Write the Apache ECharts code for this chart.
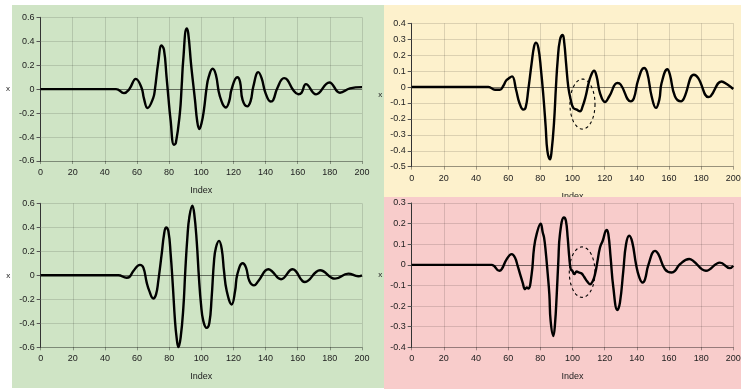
<!DOCTYPE html>
<html><head><meta charset="utf-8">
<script src="https://cdn.jsdelivr.net/npm/echarts@6/dist/echarts.min.js"></script>
<style>html,body{margin:0;padding:0;background:#fff}#c{width:741px;height:389px}</style>
</head><body><div id="c"></div>
<script>
// ---- data ----
const xTL = [0,47,51.9,55.2,59.3,62.9,64.3,66.6,70.1,71.2,73.2,75.3,76.8,78.4,79.5,80.9,83.0,84.2,86.7,87.8,88.8,90.9,91.9,93.6,94.6,96.1,97.5,98.8,100.2,101.7,103.3,104.6,107.1,109.1,111.6,115.4,117.4,118.9,122.4,124.1,125.7,128.6,130.7,132.4,135.5,137.6,140,143.2,144.8,147.3,151.5,153.5,157.3,160.4,162.4,165.1,171.4,179.7,186.3,192.5,200];
const yTL = [0,0,-0.033,0,0.086,0.01,-0.075,-0.158,-0.075,0,0.217,0.364,0.33,0.105,-0.06,-0.255,-0.464,-0.45,-0.2,0.02,0.244,0.506,0.467,0.217,0.09,-0.09,-0.27,-0.333,-0.283,-0.17,0.008,0.1,0.17,0.12,-0.06,-0.153,-0.1,0,0.1,0.064,-0.09,-0.144,-0.1,0.022,0.142,0.09,-0.033,-0.103,-0.09,0.008,0.092,0.078,-0.01,-0.042,-0.03,0.042,-0.044,0.056,-0.03,0.006,0.017];

const xTR = [0,47.7,51.8,54.9,57,58.7,60.1,62.4,64.9,67,69.4,70.9,72.5,74.6,76.1,77.3,78.8,80.4,81.9,83.3,84.4,86,87,88.5,89.7,90.8,92.2,93.9,94.9,96,97.4,98.9,100.5,102.6,104.7,106.3,108.2,109.8,111.3,113.4,115,117.1,120.2,122.9,127.9,130,136.2,138.2,140.9,144.5,146.5,149.2,151.9,154,155.4,159,160.6,163.7,167.5,169.4,175.5,178.2,184.5,185.9,192.7,195.9,200];
const yTR = [0,0,-0.017,-0.017,0.008,0.04,0.052,0.067,-0.017,-0.1,-0.142,-0.127,-0.017,0.15,0.254,0.279,0.244,0.108,-0.058,-0.246,-0.402,-0.454,-0.402,-0.225,0,0.171,0.296,0.327,0.275,0.15,0,-0.08,-0.131,-0.142,-0.152,-0.121,-0.058,0.015,0.067,0.102,0.067,-0.0375,-0.094,-0.058,0.025,0.015,-0.09,-0.07,0.046,0.119,0.088,-0.058,-0.131,-0.079,0.025,0.112,0.077,-0.058,-0.09,-0.069,0.077,0.056,-0.0625,-0.058,0.035,0.019,-0.0125];

const xBL = [0,48.3,53.5,55.2,57.7,61.8,63.9,66,67.6,70.1,71.8,73.2,75.3,76.8,78,79.5,80.9,82.2,83.6,84.6,85.7,87.1,88.8,90,91.3,92.5,94.4,95.6,97.1,98.5,99.8,101.2,103.3,105,106.4,107.9,109.1,111,112.7,114.1,115.8,118.9,121,122.4,125.7,127.8,129.9,132.8,135.5,141.7,143.8,149.6,156.8,164.5,173.9,183.2,191.5,197.7,200];
const yBL = [0,0,-0.02,-0.014,0.036,0.087,0.064,-0.061,-0.13,-0.193,-0.159,-0.047,0.176,0.343,0.399,0.366,0.176,-0.075,-0.38,-0.52,-0.6,-0.52,-0.27,0.036,0.315,0.483,0.58,0.51,0.287,-0.02,-0.243,-0.38,-0.438,-0.396,-0.187,0.12,0.232,0.287,0.218,0.036,-0.131,-0.243,-0.131,0.008,0.1,0.064,-0.047,-0.084,-0.047,0.05,0.036,-0.033,0.05,-0.056,0.042,-0.028,0.014,-0.008,0];

const xBR = [0,49.7,54.5,56,59.1,62.2,64.2,65.9,67.4,69,70.5,71.5,72.5,74.6,76.1,77.7,80.2,81.5,82.3,83.3,84.6,85.6,86.4,88.1,89.1,90.2,91.2,92.2,94.7,95.9,97,98,98.9,99.9,101.1,102.6,104,105.7,107.2,109.2,110.9,112.5,114,115.4,117.1,118.8,121.2,122.3,123.7,125.4,127.9,129.5,131.6,133.3,135.3,137.2,139.5,141.6,143.6,145.1,147.2,151.3,153.4,157.5,161.7,163.7,166.8,172.6,175.1,183,191.7,197.9,200];
const yBR = [0,0,-0.029,-0.021,0.028,0.052,0.036,-0.005,-0.045,-0.086,-0.118,-0.11,-0.115,-0.045,0.084,0.149,0.2,0.157,0.133,0.068,-0.045,-0.143,-0.272,-0.345,-0.289,-0.143,0.019,0.149,0.23,0.214,0.133,0.036,-0.021,-0.029,-0.045,-0.032,-0.037,-0.042,-0.058,-0.081,-0.094,-0.081,-0.045,0.011,0.084,0.117,0.169,0.149,0.036,-0.11,-0.219,-0.183,-0.029,0.1,0.141,0.109,0.003,-0.062,-0.086,-0.07,0,0.068,0.052,-0.021,-0.037,-0.029,0.003,0.028,0.019,-0.029,0.011,-0.016,-0.005];

// ellipse annotations: [centerX, centerY, radiusX, radiusY] in data units
const ellipseTR = [106.2, -0.107, 7.8, 0.157];
const ellipseBR = [106, -0.0355, 8, 0.1225];

const xName = 'Index';
const yName = 'x';
const xRange = [0, 200, 20];
const yRangeTL = [-0.6, 0.6, 0.2];
const yRangeTR = [-0.5, 0.4, 0.1];
const yRangeBL = [-0.6, 0.6, 0.2];
const yRangeBR = [-0.4, 0.3, 0.1];

// ---- chart ----
const FONT = 'Liberation Sans, Arial, sans-serif';
const TXT = '#222';
const GRID_LINE = 'rgba(0,0,0,0.13)';

const grids = [
  {left: 40.5, top: 17.3, width: 321.5, height: 143.7},
  {left: 411.7, top: 23.3, width: 321.6, height: 143.4},
  {left: 40.7, top: 203.3, width: 321.3, height: 144},
  {left: 411.7, top: 203, width: 321.6, height: 144.3}
].map(g => Object.assign({containLabel: false, outerBoundsMode: 'none'}, g));

const panels = [
  {xs: xTL, ys: yTL, yr: yRangeTL, yGap: 30.5, z: 0},
  {xs: xTR, ys: yTR, yr: yRangeTR, yGap: 29.5, z: 0},
  {xs: xBL, ys: yBL, yr: yRangeBL, yGap: 30.5, z: 0},
  {xs: xBR, ys: yBR, yr: yRangeBR, yGap: 29.5, z: 5}
];

const xAxes = [], yAxes = [], series = [];
panels.forEach((p, i) => {
  xAxes.push({
    gridIndex: i, type: 'value', min: xRange[0], max: xRange[1], interval: xRange[2],
    z: p.z,
    name: xName, nameLocation: 'middle', nameGap: 25,
    nameTextStyle: {color: TXT, fontSize: 9, fontFamily: FONT},
    axisLine: {onZero: false, lineStyle: {color: 'rgba(0,0,0,0.3)', width: 1}},
    axisTick: {show: true, length: 3, lineStyle: {color: 'rgba(0,0,0,0.35)'}},
    axisLabel: {color: TXT, fontSize: 9, fontFamily: FONT, margin: 7},
    splitLine: {show: true, lineStyle: {color: GRID_LINE, width: 1}}
  });
  yAxes.push({
    gridIndex: i, type: 'value', min: p.yr[0], max: p.yr[1], interval: p.yr[2],
    z: p.z,
    name: yName, nameLocation: 'middle', nameGap: p.yGap, nameRotate: 0,
    nameTextStyle: {color: TXT, fontSize: 8, fontFamily: FONT},
    axisLine: {show: true, onZero: false, lineStyle: {color: '#333', width: 1}},
    axisTick: {show: true, length: 4, lineStyle: {color: '#555'}},
    axisLabel: {color: TXT, fontSize: 9, fontFamily: FONT, margin: 6},
    splitLine: {show: true, lineStyle: {color: GRID_LINE, width: 1}}
  });
  series.push({
    type: 'line', xAxisIndex: i, yAxisIndex: i,
    data: p.xs.map((x, k) => [x, p.ys[k]]),
    showSymbol: false, symbol: 'none', smooth: 0.45, z: p.z + 3,
    lineStyle: {color: '#000', width: 2.4},
    markLine: {
      silent: true, symbol: 'none', label: {show: false},
      lineStyle: {color: 'rgba(0,0,0,0.45)', type: 'solid', width: 1},
      data: [{yAxis: 0}], animation: false, z: p.z + 1
    },
    animation: false
  });
});

function ellipseSeries(idx, e, z) {
  return {
    type: 'custom', xAxisIndex: idx, yAxisIndex: idx, z: z, silent: true,
    data: [e],
    renderItem: function (params, api) {
      const c = api.coord([api.value(0), api.value(1)]);
      const s = api.size([api.value(2), api.value(3)]);
      const pts = [];
      for (let k = 0; k <= 72; k++) {
        const t = k / 72 * Math.PI * 2;
        pts.push([c[0] + s[0] * Math.cos(t), c[1] + s[1] * Math.sin(t)]);
      }
      return {type: 'polyline', shape: {points: pts},
        style: {fill: null, stroke: '#000', lineWidth: 1.1, lineDash: [3, 3]}};
    },
    animation: false
  };
}
series.push(ellipseSeries(1, ellipseTR, 4));
series.push(ellipseSeries(3, ellipseBR, 9));

const chart = echarts.init(document.getElementById('c'), null, {renderer: 'canvas'});
chart.setOption({
  animation: false,
  backgroundColor: '#fff',
  graphic: [
    {type: 'rect', z: -100, silent: true, shape: {x: 12, y: 5, width: 372, height: 383}, style: {fill: '#cfe4c5'}},
    {type: 'rect', z: -100, silent: true, shape: {x: 384, y: 5, width: 357, height: 192}, style: {fill: '#fdf1cc'}},
    {type: 'rect', z: 1, silent: true, shape: {x: 384, y: 197, width: 357, height: 192}, style: {fill: '#f8cccb'}}
  ],
  grid: grids,
  xAxis: xAxes,
  yAxis: yAxes,
  series: series
});
</script>
</body></html>
